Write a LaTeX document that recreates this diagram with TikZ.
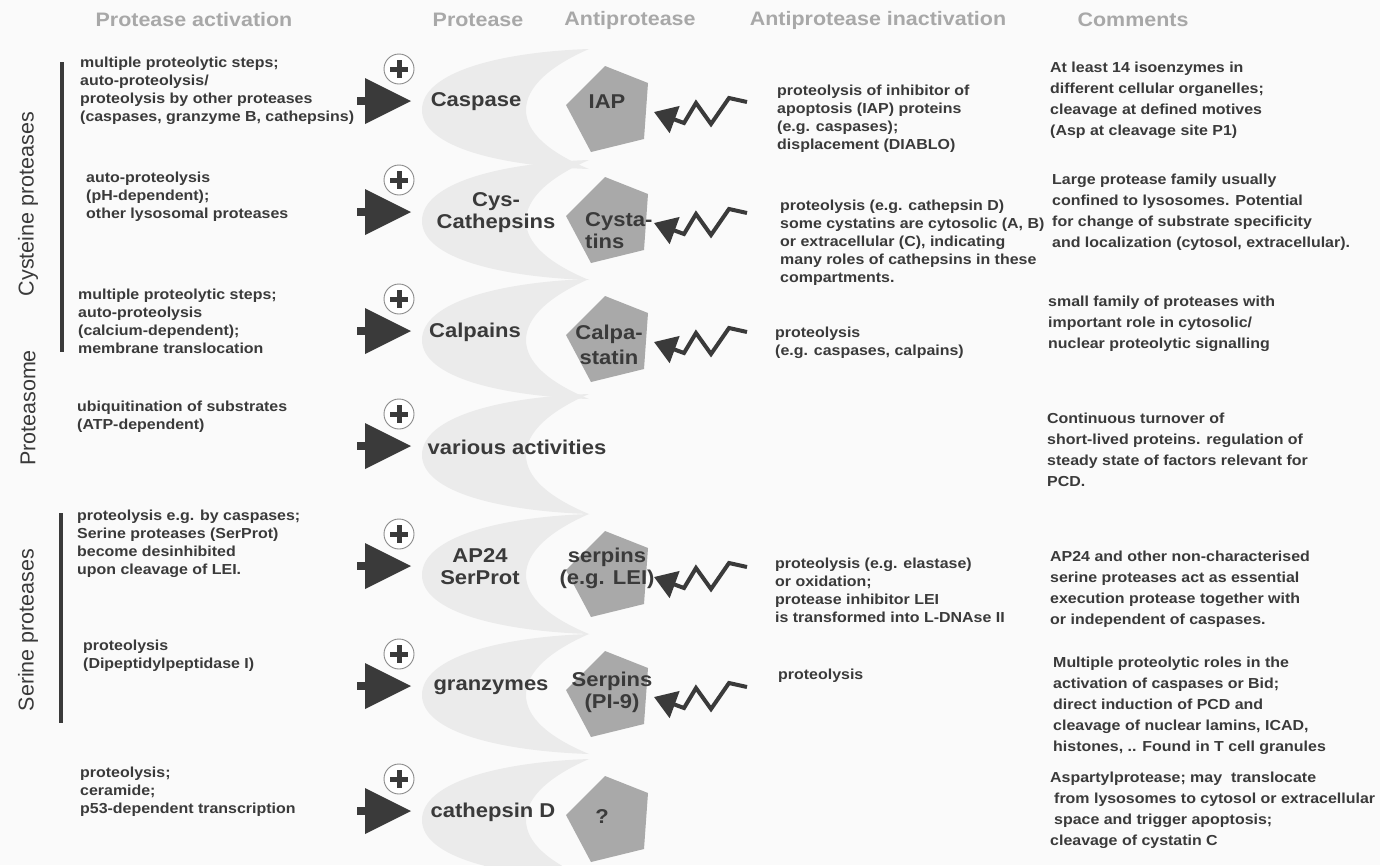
\documentclass[tikz,border=0pt]{standalone}
\usepackage{fontspec}
\setmainfont{Liberation Sans}[FakeStretch=1.1]
\newfontfamily\sidefont{Liberation Sans}
\usetikzlibrary{arrows.meta}
\definecolor{txt}{HTML}{3A3A3A}
\definecolor{hdr}{HTML}{A8A8A8}
\definecolor{cres}{HTML}{EBEBEB}
\definecolor{pent}{HTML}{A9A9A9}
\definecolor{dark}{HTML}{3A3A3A}
\definecolor{bg}{HTML}{FAFAFA}
\definecolor{ring}{HTML}{8A8A8A}
\tikzset{
  body/.style={font=\fontsize{14.5}{18}\selectfont\bfseries, text=txt, align=left, anchor=west, inner sep=0},
  comm/.style={font=\fontsize{14.5}{21}\selectfont\bfseries, text=txt, align=left, anchor=west, inner sep=0},
  head/.style={font=\fontsize{19.5}{22}\selectfont\bfseries, text=hdr, inner sep=0},
  prot/.style={font=\fontsize{20}{22}\selectfont\bfseries, text=txt, align=center, inner sep=0},
  side/.style={font=\sidefont\fontsize{21.5}{24}\selectfont, text=txt, rotate=90, inner sep=0},
  bar/.style={draw=dark, line width=3.5pt},
  pluscirc/.style={circle, draw=ring, line width=0.9pt, fill=white, minimum size=30pt, inner sep=0},
  plusbar/.style={draw=dark, line width=5pt},
  bolt/.style={draw=dark, line width=4pt, line join=miter, -{Triangle[length=22pt,width=28pt]}},
}
\newcommand\rowbase[2]{%
  \begin{scope}[shift={(0,#2)}]
    \fill[cres] (589,-53) .. controls (500,-50) and (422,-30) .. (422,8)
      .. controls (422,45) and (500,64) .. (589,67)
      .. controls (548,50) and (526,30) .. (526,8)
      .. controls (526,-15) and (550,-36) .. (589,-53) -- cycle;
  \end{scope}}
\newcommand\rowact[2]{%
  \begin{scope}[shift={(0,#2)}]
    \fill[dark] (357,-5) rectangle (367,3);
    \fill[dark] (365,-24) -- (411,-1) -- (365,22) -- cycle;
    \coordinate (#1tip) at (411,-1);
    \node[pluscirc] (#1plus) at (399,-33) {};
    \draw[plusbar] (390,-33) -- (408,-33) (399,-42) -- (399,-24);
  \end{scope}}
\newcommand\rowanti[2]{%
  \begin{scope}[shift={(0,#2)}]
    \fill[pent] (566,3) -- (605,-36) -- (648,-19) -- (644,37) -- (591,50) -- cycle;
    \coordinate (#1pent) at (609,6);
  \end{scope}}
\newcommand\rowbolt[2]{%
  \begin{scope}[shift={(0,#2)}]
    \coordinate (#1bs) at (747,0);
    \coordinate (#1bt) at (654,10);
    \draw[bolt] (#1bs) -- (729,-4) -- (711,22) -- (696,1) -- (684,21) -- (#1bt);
  \end{scope}}
\begin{document}
\begin{tikzpicture}[x=1pt,y=-1pt]
\fill[bg] (0,0) rectangle (1380,865);
\useasboundingbox (0,0) rectangle (1380,865);

% crescents
\rowbase{r1}{102}
\rowbase{r2}{213}
\rowbase{r3}{332}
\rowbase{r4}{447}
\rowbase{r5}{567}
\rowbase{r6}{687}
\rowbase{r7}{812}
% pentagons
\rowanti{r1}{102}
\rowanti{r2}{213}
\rowanti{r3}{332}
\rowanti{r5}{567}
\rowanti{r6}{687}
\rowanti{r7}{812}
% activation arrows
\rowact{r1}{102}
\rowact{r2}{213}
\rowact{r3}{332}
\rowact{r4}{447}
\rowact{r5}{567}
\rowact{r6}{687}
\rowact{r7}{812}
% inactivation bolts
\rowbolt{r1}{102}
\rowbolt{r2}{213}
\rowbolt{r3}{332}
\rowbolt{r5}{567}
\rowbolt{r6}{687}

% headers
\node[head] (h1) at (194,20) {Protease activation};
\node[head] (h2) at (478,20) {Protease};
\node[head] (h3) at (630,20) {Antiprotease};
\node[head] (h4) at (878,20) {Antiprotease inactivation};
\node[head] (h5) at (1133,20) {Comments};

% side labels and bars
\node[side] (s1) at (28,204) {Cysteine proteases};
\node[side] (s2) at (28,408) {Proteasome};
\node[side] (s3) at (28,630) {Serine proteases};
\coordinate (b1a) at (62,62); \coordinate (b1b) at (62,352);
\coordinate (b2a) at (61,513); \coordinate (b2b) at (61,723);
\draw[bar] (b1a) -- (b1b);
\draw[bar] (b2a) -- (b2b);

% protease activation
\node[body] (a1) at (80,91) {multiple proteolytic steps;\\auto-proteolysis/\\proteolysis by other proteases\\(caspases, granzyme B, cathepsins)};
\node[body] (a2) at (86,197) {auto-proteolysis\\(pH-dependent);\\other lysosomal proteases};
\node[body] (a3) at (78,321) {multiple proteolytic steps;\\auto-proteolysis\\(calcium-dependent);\\membrane translocation};
\node[body] (a4) at (77,417) {ubiquitination of substrates\\(ATP-dependent)};
\node[body] (a5) at (77,544) {proteolysis e.g. by caspases;\\Serine proteases (SerProt)\\become desinhibited\\upon cleavage of LEI.};
\node[body] (a6) at (83,656) {proteolysis\\(Dipeptidylpeptidase I)};
\node[body] (a7) at (80,792) {proteolysis;\\ceramide;\\p53-dependent transcription};

% proteases
\node[prot] (p1) at (476,102) {Caspase};
\node[prot] (p2) at (496,213) {Cys-\\Cathepsins};
\node[prot] (p3) at (475,332) {Calpains};
\node[prot] (p4) at (517,447) {various activities};
\node[prot] (p5) at (480,567) {AP24\\SerProt};
\node[prot] (p6) at (491,687) {granzymes};
\node[prot] (p7) at (493,812) {cathepsin D};

% antiproteases
\node[prot] (q1) at (607,102) {IAP};
\node[prot, align=left, anchor=west] (q2) at (585,231) {Cysta-\\tins};
\node[prot, font=\fontsize{20}{25}\selectfont\bfseries] (q3) at (609,345) {Calpa-\\statin};
\node[prot] (q5) at (607,568) {serpins\\(e.g. LEI)};
\node[prot] (q6) at (612,692) {Serpins\\(PI-9)};
\node[prot] (q7) at (602,817) {?};

% antiprotease inactivation
\node[body] (c1) at (777,119) {proteolysis of inhibitor of\\apoptosis (IAP) proteins\\(e.g. caspases);\\displacement (DIABLO)};
\node[body] (c2) at (780,243) {proteolysis (e.g. cathepsin D)\\some cystatins are cytosolic (A, B)\\or extracellular (C), indicating\\many roles of cathepsins in these\\compartments.};
\node[body] (c3) at (775,343) {proteolysis\\(e.g. caspases, calpains)};
\node[body] (c5) at (775,590) {proteolysis (e.g. elastase)\\or oxidation;\\protease inhibitor LEI\\is transformed into L-DNAse II};
\node[body] (c6) at (778,676) {proteolysis};

% comments
\node[comm] (m1) at (1050,100) {At least 14 isoenzymes in\\different cellular organelles;\\cleavage at defined motives\\(Asp at cleavage site P1)};
\node[comm] (m2) at (1052,212) {Large protease family usually\\confined to lysosomes. Potential\\for change of substrate specificity\\and localization (cytosol, extracellular).};
\node[comm] (m3) at (1048,324) {small family of proteases with\\important role in cytosolic/\\nuclear proteolytic signalling};
\node[comm] (m4) at (1047,450) {Continuous turnover of\\short-lived proteins. regulation of\\steady state of factors relevant for\\PCD.};
\node[comm] (m5) at (1050,589) {AP24 and other non-characterised\\serine proteases act as essential\\execution protease together with\\or independent of caspases.};
\node[comm] (m6) at (1053,706) {Multiple proteolytic roles in the\\activation of caspases or Bid;\\direct induction of PCD and\\cleavage of nuclear lamins, ICAD,\\histones, .. Found in T cell granules};
\node[comm] (m7) at (1050,810) {Aspartylprotease; may\ \ translocate\\\hspace*{4pt}from lysosomes to cytosol or extracellular\\\hspace*{4pt}space and trigger apoptosis;\\cleavage of cystatin C};
\end{tikzpicture}
\end{document}
